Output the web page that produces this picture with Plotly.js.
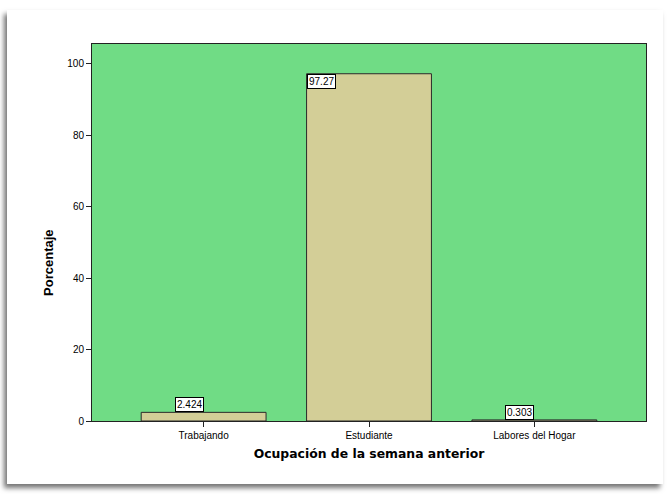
<!DOCTYPE html>
<html>
<head>
<meta charset="utf-8">
<script src="https://cdn.plot.ly/plotly-3.0.1.min.js"></script>
<style>
  html, body { margin: 0; padding: 0; background: #ffffff; }
  #frame { position: absolute; left: 7px; top: 10px; width: 656px; height: 474px;
           background: #ffffff; box-shadow: -3px 4px 5px rgba(0,0,0,0.55); }
  #chart { position: absolute; left: 0; top: 0; width: 671px; height: 494px; }
</style>
</head>
<body>
<div id="frame"></div>
<div id="chart"></div>
<script>
const categories = ["Trabajando", "Estudiante", "Labores del Hogar"];
const percentages = [2.424, 97.27, 0.303];
const valueLabels = ["2.424", "97.27", "0.303"];
const yTickValues = [0, 20, 40, 60, 80, 100];

const trace = {
  type: "bar",
  x: categories,
  y: percentages,
  width: 0.755,
  marker: { color: "#D3CE97", line: { color: "#2a2a2a", width: 1 } },
  hoverinfo: "skip"
};

// label placement: Estudiante label sits inside the top-left corner; others above bar
const annotations = categories.map((c, i) => {
  const inside = percentages[i] > 50;
  return {
    x: inside ? i - 0.3775 : i - 0.175,
    y: percentages[i],
    xref: "x", yref: "y",
    xanchor: "left",
    yanchor: inside ? "top" : "bottom",
    text: valueLabels[i],
    showarrow: false,
    font: { family: "Liberation Sans, Arial, sans-serif", size: 10, color: "#000" },
    bgcolor: "#ffffff",
    bordercolor: "#000000",
    borderwidth: 1,
    borderpad: 1
  };
});

annotations.push({
  text: "Porcentaje", xref: "paper", yref: "paper",
  x: -0.079, y: 0.42, textangle: -90, showarrow: false,
  xanchor: "center", yanchor: "middle",
  font: { family: "Liberation Sans, Arial, sans-serif", size: 13, color: "#000", weight: "bold" }
});

const layout = {
  width: 671, height: 494,
  margin: { l: 92, r: 25, t: 44, b: 73 },
  paper_bgcolor: "rgba(0,0,0,0)",
  plot_bgcolor: "#70DC85",
  showlegend: false,
  xaxis: {
    type: "category",
    range: [-0.675, 2.675],
    showgrid: false, zeroline: false,
    showline: true, linecolor: "#222", linewidth: 1, mirror: true,
    ticks: "outside", ticklen: 5, tickcolor: "#222",
    tickfont: { family: "Liberation Sans, Arial, sans-serif", size: 10, color: "#000" },
    title: { text: "Ocupación de la semana anterior", standoff: 9,
             font: { family: "DejaVu Sans, sans-serif", size: 12.4, color: "#000", weight: "bold" } }
  },
  yaxis: {
    range: [0, 105.6],
    tickvals: yTickValues,
    showgrid: false, zeroline: false,
    showline: true, linecolor: "#222", linewidth: 1, mirror: true,
    ticks: "outside", ticklen: 5, tickcolor: "#222",
    tickfont: { family: "Liberation Sans, Arial, sans-serif", size: 10, color: "#000" }
  },
  annotations: annotations
};

Plotly.newPlot("chart", [trace], layout, { displayModeBar: false, staticPlot: true });
</script>
</body>
</html>
